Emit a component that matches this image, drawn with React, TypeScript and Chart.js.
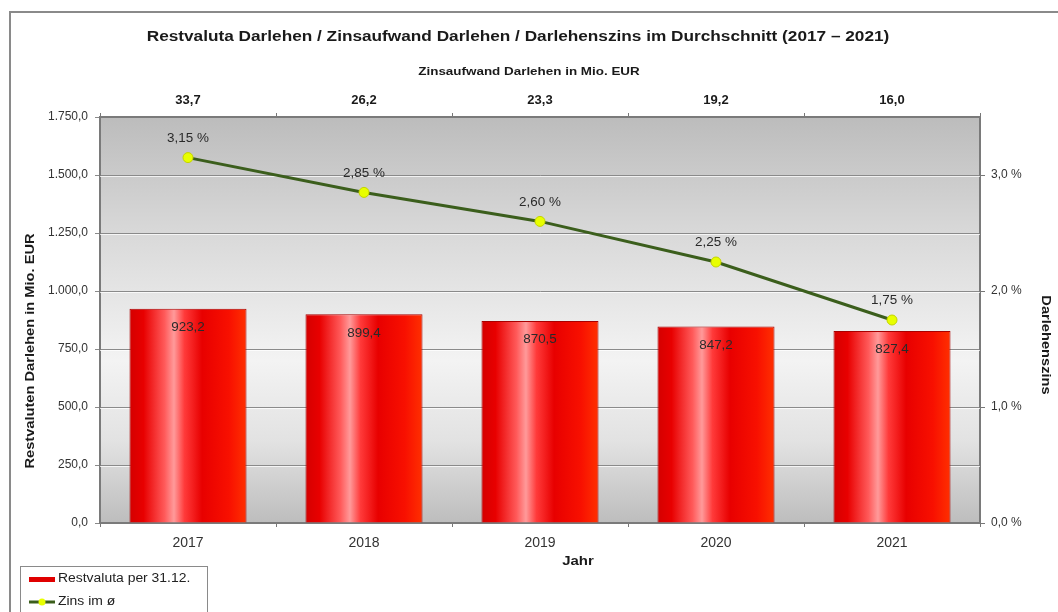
import React, { useEffect, useRef } from "react";
import { Chart, registerables } from "chart.js";

Chart.register(...registerables);

const categories = ["2017", "2018", "2019", "2020", "2021"];
const restvaluta = [923.2, 899.4, 870.5, 847.2, 827.4];
const zins = [3.15, 2.85, 2.6, 2.25, 1.75];
const zinsaufwand = ["33,7", "26,2", "23,3", "19,2", "16,0"];

const FONT = '"Liberation Sans", Arial, sans-serif';
const BAR_PCT = 0.665;

function fmtDe(v: number, d: number): string {
  const s = v.toFixed(d);
  const [intPart, frac] = s.split(".");
  const withDots = intPart.replace(/\B(?=(\d{3})+(?!\d))/g, ".");
  return frac !== undefined ? withDots + "," + frac : withDots;
}

function drawText(ctx: any, text: string, x: number, y: number, font: string, sx: number, rot = 0, align = "center") {
  ctx.save();
  ctx.translate(x, y);
  if (rot) ctx.rotate(rot);
  ctx.scale(sx, 1);
  ctx.font = font;
  ctx.textAlign = align;
  ctx.textBaseline = "middle";
  ctx.fillText(text, 0, 0);
  ctx.restore();
}

const decorPlugin = {
  id: "decor",
  beforeDraw(chart: any) {
    const { ctx, chartArea: a } = chart;
    ctx.save();
    ctx.fillStyle = "#ffffff";
    ctx.fillRect(0, 0, chart.width, chart.height);
    ctx.strokeStyle = "#8a8a8a";
    ctx.lineWidth = 2;
    ctx.strokeRect(10, 12, chart.width + 20, chart.height + 20);
    const g = ctx.createLinearGradient(0, a.top, 0, a.bottom);
    g.addColorStop(0, "#bcbcbc");
    g.addColorStop(0.3, "#dadada");
    g.addColorStop(0.6, "#f3f3f3");
    g.addColorStop(0.8, "#e2e2e2");
    g.addColorStop(1, "#bdbdbd");
    ctx.fillStyle = g;
    ctx.fillRect(a.left, a.top, a.right - a.left, a.bottom - a.top);
    ctx.restore();
  },
  beforeDatasetsDraw(chart: any) {
    const { ctx, chartArea: a } = chart;
    const ys = chart.scales.y;
    ctx.save();
    ctx.strokeStyle = "rgba(255,255,255,0.75)";
    ctx.lineWidth = 1;
    ys.ticks.forEach((t: any) => {
      if (t.value <= 0 || t.value >= 1750) return;
      const y = Math.round(ys.getPixelForValue(t.value)) + 1.5;
      ctx.beginPath();
      ctx.moveTo(a.left, y);
      ctx.lineTo(a.right, y);
      ctx.stroke();
    });
    ctx.restore();
  },
  afterDatasetsDraw(chart: any) {
    const { ctx } = chart;
    ctx.save();
    ctx.fillStyle = "#2a2a2a";
    const f = "12px " + FONT;
    const barMeta = chart.getDatasetMeta(1);
    barMeta.data.forEach((el: any, i: number) => {
      drawText(ctx, fmtDe(restvaluta[i], 1), el.x, el.y + 19, f, 1.12);
    });
    const lineMeta = chart.getDatasetMeta(0);
    lineMeta.data.forEach((el: any, i: number) => {
      drawText(ctx, fmtDe(zins[i], 2) + " %", el.x, el.y - 19, f, 1.12);
    });
    ctx.restore();
  },
  afterDraw(chart: any) {
    const { ctx } = chart;
    ctx.save();
    ctx.fillStyle = "#1a1a1a";
    drawText(
      ctx,
      "Restvaluta Darlehen / Zinsaufwand Darlehen / Darlehenszins im Durchschnitt (2017 – 2021)",
      518,
      37,
      "bold 14px " + FONT,
      1.23
    );
    drawText(ctx, "Zinsaufwand Darlehen in Mio. EUR", 529, 72, "bold 11px " + FONT, 1.22);
    drawText(ctx, "Jahr", 578, 561, "bold 13px " + FONT, 1.15);
    drawText(ctx, "Restvaluten Darlehen in Mio. EUR", 31, 351, "bold 12px " + FONT, 1.22, -Math.PI / 2);
    drawText(ctx, "Darlehenszins", 1045, 345, "bold 12px " + FONT, 1.22, Math.PI / 2);
    // legend
    ctx.strokeStyle = "#8a8a8a";
    ctx.lineWidth = 1;
    ctx.strokeRect(20.5, 566.5, 187, 60);
    ctx.fillStyle = "#e00000";
    ctx.fillRect(29, 577, 26, 5);
    ctx.strokeStyle = "#3b5e1c";
    ctx.lineWidth = 3;
    ctx.beginPath();
    ctx.moveTo(29, 602);
    ctx.lineTo(55, 602);
    ctx.stroke();
    ctx.fillStyle = "#e8ff00";
    ctx.beginPath();
    ctx.arc(42, 602, 3.5, 0, Math.PI * 2);
    ctx.fill();
    ctx.fillStyle = "#222222";
    drawText(ctx, "Restvaluta per 31.12.", 58, 579, "12px " + FONT, 1.16, 0, "left");
    drawText(ctx, "Zins im ø", 58, 602, "12px " + FONT, 1.16, 0, "left");
    ctx.restore();
  },
};

function barGradient(c: any) {
  const chart = c.chart;
  const xs = chart.scales && chart.scales.x;
  const a = chart.chartArea;
  if (!xs || !a || c.type !== "data") return "#e00000";
  const cx = xs.getPixelForValue(c.dataIndex);
  const w = ((a.right - a.left) / categories.length) * BAR_PCT;
  const g = chart.ctx.createLinearGradient(cx - w / 2, 0, cx + w / 2, 0);
  g.addColorStop(0, "#d40000");
  g.addColorStop(0.12, "#e80000");
  g.addColorStop(0.3, "#ff5a5a");
  g.addColorStop(0.38, "#ff9a9a");
  g.addColorStop(0.47, "#ff3a3a");
  g.addColorStop(0.62, "#e80000");
  g.addColorStop(0.85, "#f81000");
  g.addColorStop(1, "#ff3000");
  return g;
}

export default function App() {
  const ref = useRef<HTMLCanvasElement | null>(null);
  useEffect(() => {
    if (!ref.current) return;
    const tickColor = "#333333";
    const chart = new Chart(ref.current, {
      data: {
        labels: categories,
        datasets: [
          {
            type: "line",
            label: "Zins im ø",
            data: zins,
            yAxisID: "y1",
            borderColor: "#3b5e1c",
            borderWidth: 3,
            pointBackgroundColor: "#e8ff00",
            pointBorderColor: "#c4d400",
            pointBorderWidth: 1,
            pointRadius: 5,
            tension: 0,
            order: 0,
          },
          {
            type: "bar",
            label: "Restvaluta per 31.12.",
            data: restvaluta,
            yAxisID: "y",
            backgroundColor: barGradient,
            borderColor: "#a80000",
            borderWidth: 1,
            categoryPercentage: 1,
            barPercentage: BAR_PCT,
            order: 1,
          },
        ],
      } as any,
      options: {
        animation: false,
        responsive: false,
        maintainAspectRatio: false,
        layout: { padding: 0 },
        plugins: {
          legend: { display: false },
          title: { display: false },
          tooltip: { enabled: false },
        },
        scales: {
          x: {
            type: "category",
            position: "bottom",
            offset: true,
            afterFit: (s: any) => {
              s.height = 89;
            },
            grid: { display: true, drawOnChartArea: false, offset: true, tickLength: 4, color: "#777" },
            border: { display: true, color: "#7a7a7a", width: 2 },
            ticks: { color: tickColor, font: { size: 14, family: FONT }, padding: 8 },
          },
          xTop: {
            type: "category",
            position: "top",
            labels: zinsaufwand,
            offset: true,
            afterFit: (s: any) => {
              s.height = 117;
            },
            grid: { display: true, drawOnChartArea: false, offset: true, tickLength: 4, color: "#777" },
            border: { display: true, color: "#7a7a7a", width: 2 },
            ticks: { color: "#1a1a1a", font: { size: 13, weight: "bold", family: FONT }, padding: 5 },
          },
          y: {
            type: "linear",
            position: "left",
            min: 0,
            max: 1750,
            afterFit: (s: any) => {
              s.width = 100;
            },
            ticks: {
              stepSize: 250,
              color: tickColor,
              font: { size: 12, family: FONT },
              padding: 7,
              callback: (v: any) => fmtDe(Number(v), 1),
            },
            grid: { color: "#8a8a8a", lineWidth: 1, tickLength: 5 },
            border: { display: true, color: "#7a7a7a", width: 2 },
          },
          y1: {
            type: "linear",
            position: "right",
            min: 0,
            max: 3.5,
            afterFit: (s: any) => {
              s.width = 78;
            },
            ticks: {
              stepSize: 1,
              color: tickColor,
              font: { size: 12, family: FONT },
              padding: 6,
              callback: (v: any) => (Number.isInteger(Number(v)) ? fmtDe(Number(v), 1) + " %" : null),
            },
            grid: { drawOnChartArea: false, tickLength: 5, color: "#777" },
            border: { display: true, color: "#7a7a7a", width: 2 },
          },
        },
      } as any,
      plugins: [decorPlugin],
    });
    return () => chart.destroy();
  }, []);
  return (
    <div style={{ position: "fixed", left: 0, top: 0, width: 1058, height: 612, background: "#fff" }}>
      <canvas ref={ref} width={1058} height={612} style={{ display: "block", width: 1058, height: 612 }} />
    </div>
  );
}
